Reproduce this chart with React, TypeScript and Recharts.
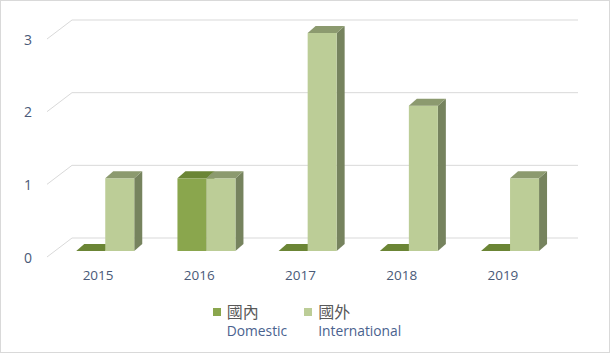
import React from 'react';
import { BarChart, Bar, XAxis, YAxis, CartesianGrid, Legend } from 'recharts';

const categories = ['2015', '2016', '2017', '2018', '2019'];
const domestic = [0, 1, 0, 0, 0];
const international = [1, 1, 3, 2, 1];
const seriesNames = ['國內', '國外'];
const seriesEnglish = ['Domestic', 'International'];
const yTicks = [0, 1, 2, 3];

const data = categories.map((c, i) => ({ year: c, domestic: domestic[i], international: international[i] }));

const DX = 8;
const DY = -7;

const make3D = (front: string, top: string, side: string) => (props: any) => {
  const { x, y, width, height } = props;
  if (x == null || y == null) return <g />;
  const h = Math.max(0, height || 0);
  const x2 = x + width;
  const yb = y + h;
  return (
    <g>
      {h > 0 && (
        <polygon points={`${x2},${y} ${x2 + DX},${y + DY} ${x2 + DX},${yb + DY} ${x2},${yb}`} fill={side} />
      )}
      {h > 0 && <rect x={x} y={y} width={width} height={h} fill={front} />}
      <polygon points={`${x},${y} ${x + DX},${y + DY} ${x2 + DX},${y + DY} ${x2},${y}`} fill={top} />
    </g>
  );
};

const gridLine = (props: any) => {
  const { x1, x2, y1 } = props;
  return (
    <g key={props.key}>
      <line x1={x1 + 17} y1={y1 - 13} x2={x2 + 17} y2={y1 - 13} stroke="#D9D9D9" strokeWidth={1} />
      <line x1={x1 - 8} y1={y1 + 6} x2={x1 + 17} y2={y1 - 13} stroke="#D9D9D9" strokeWidth={1} />
    </g>
  );
};

const YTick = (props: any) => {
  const { x, y, payload } = props;
  return (
    <text x={x - 27} y={y + 6} textAnchor="middle" dominantBaseline="central" fill="#4A5A78" fontSize={14} fontFamily="Open Sans">
      {payload.value}
    </text>
  );
};

const XTick = (props: any) => {
  const { x, y, payload } = props;
  return (
    <text x={x - 7.5} y={y + 24} textAnchor="middle" dominantBaseline="central" fill="#4A5A78" fontSize={13.5} fontFamily="Open Sans">
      {payload.value}
    </text>
  );
};

const LegendContent = (props: any) => {
  const { payload } = props;
  return (
    <div style={{ display: 'flex', justifyContent: 'center', gap: 17, paddingLeft: 4 }}>
      {(payload || []).map((entry: any, i: number) => (
        <div key={i} style={{ display: 'flex', alignItems: 'flex-start' }}>
          <div style={{ width: 8, height: 8, background: entry.color, marginTop: 6 }} />
          <div style={{ marginLeft: 6, display: 'flex', flexDirection: 'column' }}>
            <span style={{ fontFamily: '"Noto Sans CJK TC"', fontSize: 16, lineHeight: '18px', color: '#595959' }}>
              {entry.value}
            </span>
            <span style={{ fontFamily: 'Open Sans', fontSize: 13.8, lineHeight: '18px', marginTop: 2, color: '#4A628E' }}>
              {seriesEnglish[i]}
            </span>
          </div>
        </div>
      ))}
    </div>
  );
};

export default function App() {
  return (
    <div style={{ position: 'absolute', left: 0, top: 0, width: 610, height: 353, background: '#fff' }}>
      <BarChart
        width={610}
        height={353}
        data={data}
        margin={{ top: 33, right: 49, bottom: 72, left: 25 }}
        barCategoryGap="21%"
        barGap={0}
      >
        <CartesianGrid vertical={false} horizontal={gridLine} />
        <XAxis dataKey="year" axisLine={false} tickLine={false} tickSize={0} tickMargin={0} height={30} tick={<XTick />} interval={0} />
        <YAxis domain={[0, 3]} ticks={yTicks} axisLine={false} tickLine={false} tickSize={0} tickMargin={0} width={30} tick={<YTick />} />
        <Legend
          layout="horizontal"
          verticalAlign="middle"
          align="center"
          wrapperStyle={{ left: 0, top: 302, width: 610 }}
          content={<LegendContent />}
        />
        <Bar dataKey="domestic" name={seriesNames[0]} fill="#8AA64D" legendType="square" isAnimationActive={false} shape={make3D('#8AA64D', '#6B8535', '#5E752E')} />
        <Bar dataKey="international" name={seriesNames[1]} fill="#BCCD97" legendType="square" isAnimationActive={false} shape={make3D('#BCCD97', '#8C9A6F', '#76835E')} />
      </BarChart>
      <div style={{ position: 'absolute', left: 0, top: 0, width: 610, height: 353, boxSizing: 'border-box', border: '1px solid #D9D9D9', pointerEvents: 'none' }} />
    </div>
  );
}
